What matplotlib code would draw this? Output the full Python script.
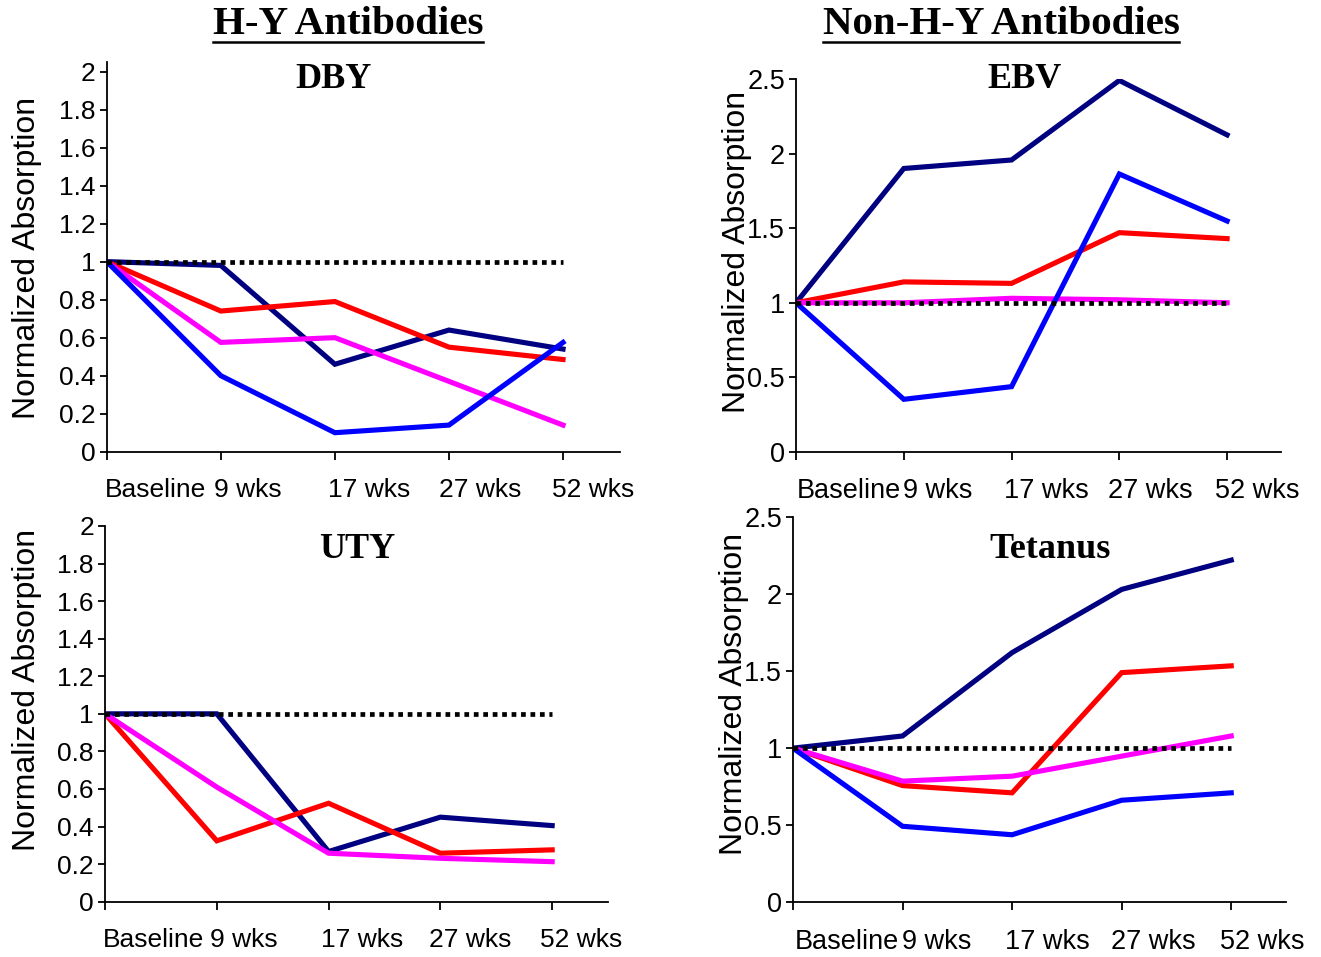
import matplotlib
matplotlib.use("Agg")
import matplotlib.pyplot as plt
from matplotlib.lines import Line2D

plt.rcParams['font.family'] = ['Liberation Sans', 'DejaVu Sans']

# time points
timepoints = ["Baseline", "9 wks", "17 wks", "27 wks", "52 wks"]
x = [0, 1, 2, 3, 4]

# DBY (H-Y)
dby_navy = [1.0, 0.98, 0.46, 0.64, 0.54]
dby_red = [1.0, 0.74, 0.79, 0.55, 0.485]
dby_magenta = [1.0, 0.575, 0.60, 0.37, 0.14]
dby_blue = [1.0, 0.40, 0.10, 0.14, 0.575]

# UTY (H-Y)
uty_navy = [1.0, 1.0, 0.267, 0.45, 0.405]
uty_red = [1.0, 0.324, 0.524, 0.258, 0.276]
uty_magenta = [1.0, 0.61, 0.258, 0.231, 0.213]

# EBV (non H-Y)
ebv_navy = [1.0, 1.90, 1.957, 2.49, 2.125]
ebv_red = [1.0, 1.14, 1.13, 1.47, 1.43]
ebv_magenta = [1.0, 1.0, 1.03, 1.02, 1.0]
ebv_blue = [1.0, 0.353, 0.438, 1.863, 1.548]

# Tetanus (non H-Y)
tet_navy = [1.0, 1.079, 1.62, 2.03, 2.22]
tet_red = [1.0, 0.757, 0.71, 1.49, 1.534]
tet_magenta = [1.0, 0.786, 0.818, 0.948, 1.079]
tet_blue = [1.0, 0.493, 0.438, 0.662, 0.71]

NAVY = '#000080'
BLUE = '#0000FF'
RED = '#FF0000'
MAGENTA = '#FF00FF'

fig = plt.figure(figsize=(13.21, 9.57), dpi=100)


def make_panel(rect, series, ymax, yticks, ylabels, tick_fs, label_pos):
    ax = fig.add_axes(rect)
    for ys, c in series:
        ax.plot(x, ys, color=c, lw=3.7, solid_joinstyle='miter')
    ax.plot([0, 4], [1, 1], color='black', lw=3.4, linestyle=(0, (1, 1)), zorder=5)
    ax.set_xlim(0, 4.5)
    ax.set_ylim(0, ymax)
    ax.spines['top'].set_visible(False)
    ax.spines['right'].set_visible(False)
    ax.spines['left'].set_linewidth(1.3)
    ax.spines['bottom'].set_linewidth(1.3)
    ax.set_yticks(yticks)
    ax.set_yticklabels(ylabels, fontsize=tick_fs)
    ax.set_xticks(x)
    ax.set_xticklabels([])
    ax.set_xticks(label_pos, minor=True)
    ax.set_xticklabels(timepoints, minor=True, fontsize=tick_fs)
    ax.tick_params(axis='x', which='major', direction='out', length=6, width=1.3)
    ax.tick_params(axis='x', which='minor', length=0, pad=19)
    ax.tick_params(axis='y', direction='out', length=5, width=1.3, pad=3)
    return ax


hy_ticks = [0, 0.2, 0.4, 0.6, 0.8, 1.0, 1.2, 1.4, 1.6, 1.8, 2.0]
hy_labels = ["0", "0.2", "0.4", "0.6", "0.8", "1", "1.2", "1.4", "1.6", "1.8", "2"]
nhy_ticks = [0, 0.5, 1.0, 1.5, 2.0, 2.5]
nhy_labels = ["0", "0.5", "1", "1.5", "2", "2.5"]

left_pos = [0.43, 1.24, 2.30, 3.27, 4.26]
right_pos = [0.49, 1.31, 2.32, 3.29, 4.28]

make_panel([0.0808, 0.5280, 0.3886, 0.4072],
           [(dby_navy, NAVY), (dby_red, RED), (dby_magenta, MAGENTA), (dby_blue, BLUE)],
           2.05, hy_ticks, hy_labels, 19, left_pos)
make_panel([0.6026, 0.5277, 0.3671, 0.3898],
           [(ebv_navy, NAVY), (ebv_red, RED), (ebv_magenta, MAGENTA), (ebv_blue, BLUE)],
           2.5, nhy_ticks, nhy_labels, 19.5, right_pos)
make_panel([0.0795, 0.0578, 0.3808, 0.3926],
           [(uty_navy, NAVY), (uty_red, RED), (uty_magenta, MAGENTA)],
           2.0, hy_ticks, hy_labels, 19, left_pos)
make_panel([0.6003, 0.0572, 0.3732, 0.4026],
           [(tet_navy, NAVY), (tet_red, RED), (tet_magenta, MAGENTA), (tet_blue, BLUE)],
           2.5, nhy_ticks, nhy_labels, 19.5, right_pos)

W, H = 1321.0, 957.0

# y labels
for px, py in [(27, 258), (737, 252), (27, 690), (734, 694)]:
    fig.text(px / W, 1 - py / H, "Normalized Absorption", rotation=90,
             ha='center', va='center', fontsize=23)

# panel titles
serif = ['Liberation Serif', 'DejaVu Serif']
for name, px, py in [("DBY", 333, 80), ("EBV", 1025, 80), ("UTY", 357, 550), ("Tetanus", 1050, 550)]:
    fig.text(px / W, 1 - py / H, name, ha='center', va='center',
             fontsize=26, fontweight='bold', family=serif)

# group headers, underlined
heads = []
for name, px in [("H-Y Antibodies", 348), ("Non-H-Y Antibodies", 1001)]:
    heads.append(fig.text(px / W, 1 - 25 / H, name, ha='center', va='center',
                          fontsize=29.5, fontweight='bold', family=serif))

fig.canvas.draw()
r = fig.canvas.get_renderer()
for t in heads:
    bb = t.get_window_extent(r)
    yl = 1 - 42 / H
    fig.add_artist(Line2D([bb.x0 / W, bb.x1 / W], [yl, yl], color='black', lw=1.8))

fig.savefig("out.png", dpi=100)
